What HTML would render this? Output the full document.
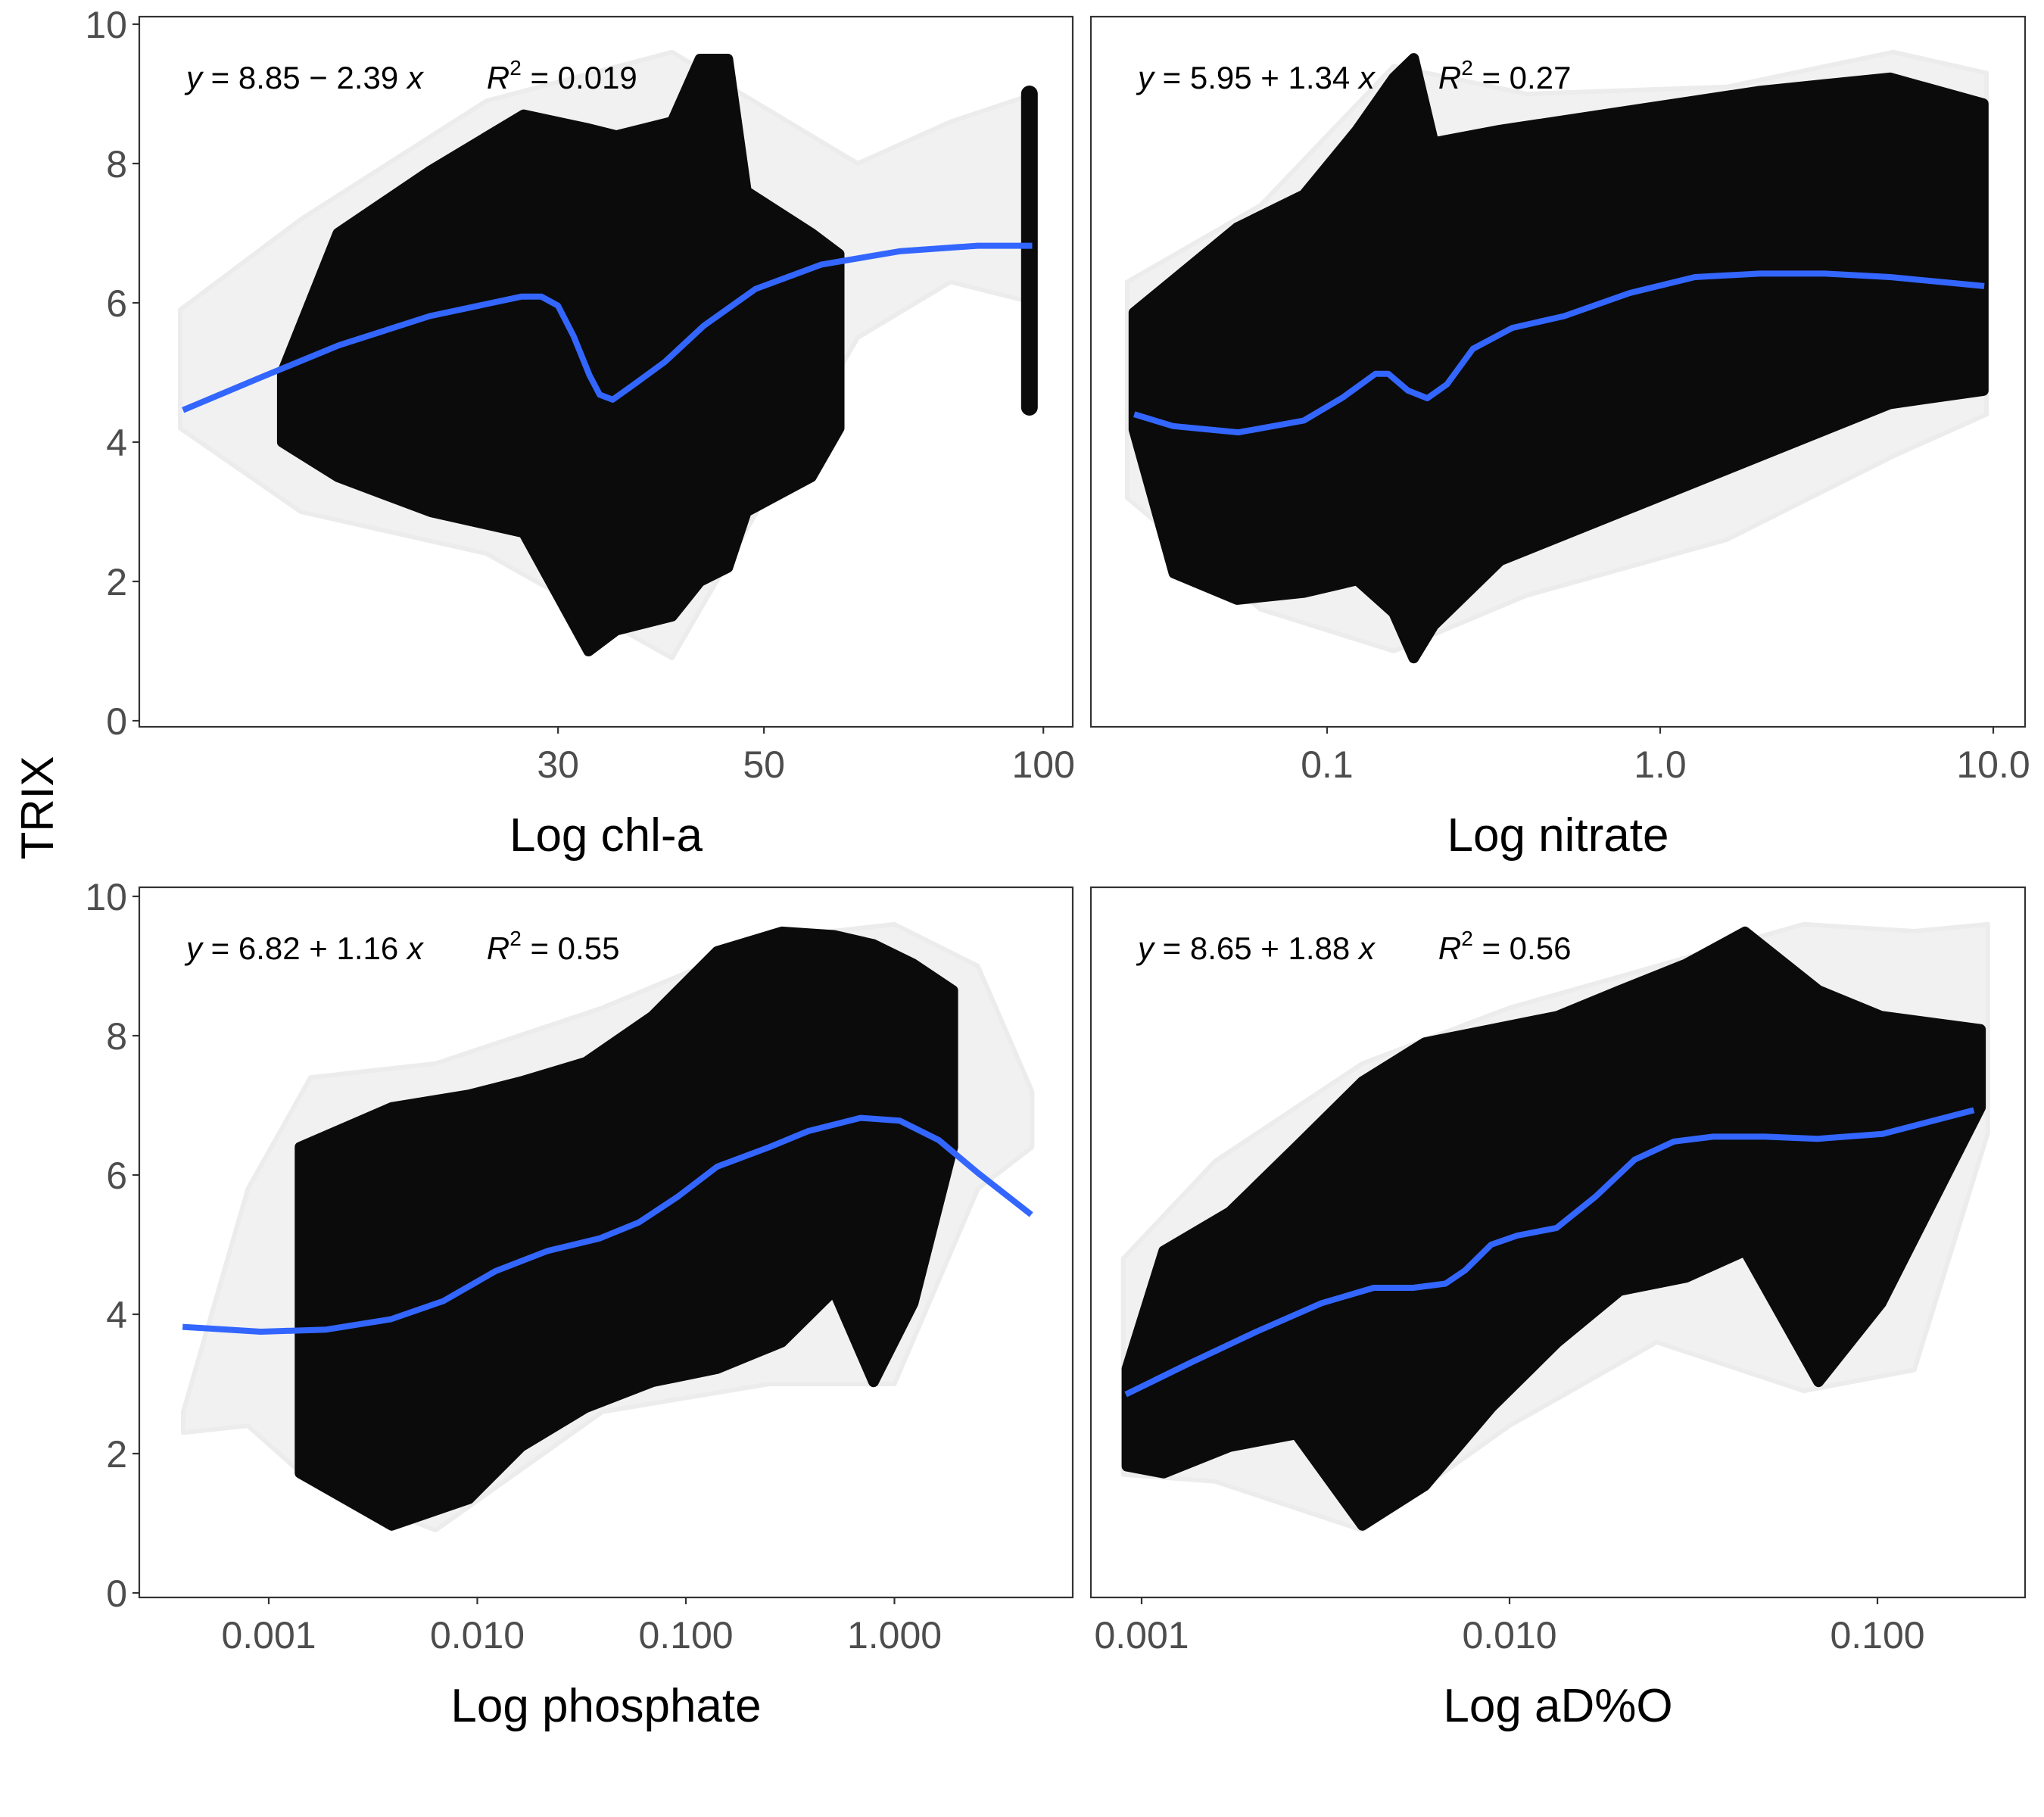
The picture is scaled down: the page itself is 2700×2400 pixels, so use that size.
<!DOCTYPE html>
<html><head><meta charset="utf-8"><style>
html,body{margin:0;padding:0;background:#fff;}
svg{display:block;font-family:"Liberation Sans",Arial,sans-serif;}
</style></head><body>
<svg id="chart" width="2700" height="2400" viewBox="0 0 2700 2400" xmlns="http://www.w3.org/2000/svg">
<rect width="2700" height="2400" fill="#fff"/>
<text x="0" y="0" transform="translate(70,1067) rotate(-90)" font-size="60" text-anchor="middle" fill="#000">TRIX</text>
</svg>
<script>
// ---- Panel 1: chl-a (x stored as log10 values) ----
const chlaCloudX  = [1.18,1.24,1.34,1.44,1.51,1.54,1.60,1.63,1.66,1.68,1.75,1.78];
const chlaCloudHi = [5.0,7.0,7.9,8.7,8.5,8.4,8.6,9.5,9.5,7.6,7.0,6.7];
const chlaCloudLo = [4.0,3.5,3.0,2.7,1.0,1.3,1.5,2.0,2.2,3.0,3.5,4.2];
const chlaHaloX  = [1.07,1.20,1.40,1.60,1.80,1.90,1.99];
const chlaHaloHi = [5.9,7.2,8.9,9.6,8.0,8.6,9.0];
const chlaHaloLo = [4.2,3.0,2.4,0.9,5.5,6.3,6.0];
const chlaSpikeX = [1.985];
const chlaSpikeLo = [4.5];
const chlaSpikeHi = [9.0];
const chlaFitX = [1.073,1.157,1.241,1.339,1.438,1.459,1.477,1.494,1.511,1.522,1.536,1.557,1.592,1.634,1.690,1.761,1.845,1.929,1.988];
const chlaFitY = [4.46,4.93,5.39,5.81,6.09,6.09,5.96,5.52,4.96,4.68,4.61,4.81,5.15,5.67,6.20,6.55,6.74,6.82,6.82];
const chlaTicks = [30,50,100];
const chlaTickLabels = ["30","50","100"];

// ---- Panel 2: nitrate ----
const nitCloudX  = [-1.58,-1.46,-1.27,-1.07,-0.91,-0.80,-0.74,-0.68,-0.48,-0.09,0.30,0.69,0.97];
const nitCloudHi = [5.86,6.33,7.08,7.55,8.48,9.23,9.51,8.30,8.48,8.76,9.04,9.23,8.86];
const nitCloudLo = [4.18,2.12,1.74,1.84,2.02,1.55,0.90,1.37,2.30,3.05,3.80,4.55,4.74];
const nitHaloX  = [-1.60,-1.20,-0.80,-0.40,0.20,0.70,0.98];
const nitHaloHi = [6.3,7.4,9.4,9.0,9.1,9.6,9.3];
const nitHaloLo = [3.2,1.6,1.0,1.8,2.6,3.8,4.4];
const nitFitX = [-1.579,-1.462,-1.266,-1.070,-0.953,-0.855,-0.816,-0.757,-0.699,-0.640,-0.562,-0.444,-0.288,-0.092,0.104,0.299,0.495,0.691,0.973];
const nitFitY = [4.40,4.23,4.14,4.31,4.64,4.98,4.98,4.74,4.63,4.83,5.34,5.64,5.81,6.14,6.37,6.42,6.42,6.37,6.24];
const nitTicks = [0.1,1.0,10.0];
const nitTickLabels = ["0.1","1.0","10.0"];

// ---- Panel 3: phosphate ----
const phoCloudX  = [-2.85,-2.41,-2.04,-1.79,-1.48,-1.16,-0.85,-0.54,-0.29,-0.10,0.09,0.28];
const phoCloudHi = [6.40,6.97,7.15,7.34,7.62,8.28,9.21,9.49,9.44,9.31,9.03,8.65];
const phoCloudLo = [1.72,0.97,1.35,2.10,2.66,3.03,3.22,3.60,4.34,3.03,4.16,6.40];
const phoHaloX  = [-3.41,-3.10,-2.80,-2.20,-1.40,-0.60,0.00,0.40,0.66];
const phoHaloHi = [2.6,5.8,7.4,7.6,8.4,9.4,9.6,9.0,7.2];
const phoHaloLo = [2.3,2.4,1.6,0.9,2.6,3.0,3.0,5.8,6.4];
const phoFitX = [-3.413,-3.038,-2.725,-2.413,-2.163,-1.913,-1.663,-1.413,-1.225,-1.038,-0.85,-0.6,-0.413,-0.163,0.025,0.213,0.4,0.656];
const phoFitY = [3.82,3.75,3.78,3.93,4.19,4.62,4.91,5.09,5.32,5.69,6.12,6.40,6.63,6.82,6.78,6.50,6.03,5.43];
const phoTicks = [0.001,0.010,0.100,1.000];
const phoTickLabels = ["0.001","0.010","0.100","1.000"];

// ---- Panel 4: aD%O ----
const adoCloudX  = [-3.04,-2.94,-2.76,-2.58,-2.40,-2.23,-2.05,-1.87,-1.70,-1.52,-1.36,-1.16,-0.99,-0.72];
const adoCloudHi = [3.22,4.91,5.47,6.40,7.34,7.90,8.09,8.28,8.65,9.03,9.49,8.65,8.28,8.09];
const adoCloudLo = [1.82,1.72,2.10,2.28,0.97,1.54,2.66,3.60,4.34,4.53,4.91,3.03,4.16,6.97];
const adoHaloX  = [-3.05,-2.80,-2.40,-2.00,-1.60,-1.20,-0.90,-0.70];
const adoHaloHi = [4.8,6.2,7.6,8.4,9.0,9.6,9.5,9.6];
const adoHaloLo = [1.7,1.6,0.9,2.4,3.6,2.9,3.2,6.6];
const adoFitX = [-3.043,-2.865,-2.688,-2.511,-2.369,-2.262,-2.174,-2.121,-2.05,-1.979,-1.872,-1.766,-1.660,-1.553,-1.447,-1.305,-1.163,-0.986,-0.738];
const adoFitY = [2.85,3.31,3.75,4.16,4.38,4.38,4.44,4.63,5.0,5.13,5.24,5.69,6.22,6.48,6.55,6.55,6.52,6.59,6.93];
const adoTicks = [0.001,0.010,0.100];
const adoTickLabels = ["0.001","0.010","0.100"];

const yTicks = [0,2,4,6,8,10];
const yTickLabels = ["0","2","4","6","8","10"];

const NS = "http://www.w3.org/2000/svg";
const svg = document.getElementById('chart');
function mk(tag, attrs, parent){
  const e = document.createElementNS(NS, tag);
  for (const k in attrs) e.setAttribute(k, attrs[k]);
  (parent||svg).appendChild(e);
  return e;
}

const panels = [
  {key:'chla', x0:184, x1:1417, y0:22, y1:960, yZero:952, yTen:32, ref:1.477, refPx:737, pxDec:1226,
   cx:chlaCloudX, hi:chlaCloudHi, lo:chlaCloudLo, hx:chlaHaloX, hhi:chlaHaloHi, hlo:chlaHaloLo,
   fx:chlaFitX, fy:chlaFitY, ticks:chlaTicks, tl:chlaTickLabels, title:'Log chl-a',
   eq:['8.85 \u2212 2.39','0.019'], sx:chlaSpikeX, slo:chlaSpikeLo, shi:chlaSpikeHi},
  {key:'nitrate', x0:1441, x1:2675, y0:22, y1:960, yZero:952, yTen:32, ref:-1, refPx:1753, pxDec:440,
   cx:nitCloudX, hi:nitCloudHi, lo:nitCloudLo, hx:nitHaloX, hhi:nitHaloHi, hlo:nitHaloLo,
   fx:nitFitX, fy:nitFitY, ticks:nitTicks, tl:nitTickLabels, title:'Log nitrate', eq:['5.95 + 1.34','0.27']},
  {key:'phosphate', x0:184, x1:1417, y0:1172, y1:2110, yZero:2104, yTen:1184, ref:-3, refPx:355, pxDec:275.5,
   cx:phoCloudX, hi:phoCloudHi, lo:phoCloudLo, hx:phoHaloX, hhi:phoHaloHi, hlo:phoHaloLo,
   fx:phoFitX, fy:phoFitY, ticks:phoTicks, tl:phoTickLabels, title:'Log phosphate', eq:['6.82 + 1.16','0.55']},
  {key:'ado', x0:1441, x1:2675, y0:1172, y1:2110, yZero:2104, yTen:1184, ref:-3, refPx:1508, pxDec:486,
   cx:adoCloudX, hi:adoCloudHi, lo:adoCloudLo, hx:adoHaloX, hhi:adoHaloHi, hlo:adoHaloLo,
   fx:adoFitX, fy:adoFitY, ticks:adoTicks, tl:adoTickLabels, title:'Log aD%O', eq:['8.65 + 1.88','0.56']}
];

panels.forEach((p, i) => {
  const X = v => p.refPx + (v - p.ref) * p.pxDec;          // v in log10 units
  const Y = v => p.yZero - v * (p.yZero - p.yTen) / 10;
  const g = mk('g', {});
  
  
  const cp = mk('clipPath', {id:'clip' + i}, g);
  mk('rect', {x:p.x0, y:p.y0, width:p.x1-p.x0, height:p.y1-p.y0}, cp);
  const inner = mk('g', {'clip-path':'url(#clip'+i+')'}, g);

  // faint halo of translucent points
  let hp = p.hx.map((v,j)=>X(v).toFixed(1)+','+Y(p.hhi[j]).toFixed(1));
  for (let j=p.hx.length-1;j>=0;j--) hp.push(X(p.hx[j]).toFixed(1)+','+Y(p.hlo[j]).toFixed(1));
  const halo = mk('polygon', {points:hp.join(' '), fill:'#f1f1f1', stroke:'#ececec', 'stroke-width':'6', 'stroke-linejoin':'round'}, inner);
  
  

  // dense point cloud
  let pts = p.cx.map((v,j)=>X(v).toFixed(1)+','+Y(p.hi[j]).toFixed(1));
  for (let j=p.cx.length-1;j>=0;j--) pts.push(X(p.cx[j]).toFixed(1)+','+Y(p.lo[j]).toFixed(1));
  const cloud = mk('polygon', {points:pts.join(' '), fill:'#0b0b0b', stroke:'#0b0b0b', 'stroke-width':'14', 'stroke-linejoin':'round'}, inner);
  
  

  if (p.sx) p.sx.forEach((v,j)=>{
    const s = mk('line', {x1:X(v), x2:X(v), y1:Y(p.slo[j]), y2:Y(p.shi[j]), stroke:'#0b0b0b', 'stroke-width':'22', 'stroke-linecap':'round'}, inner);
    
    
  });

  // smooth fit line
  const d = p.fx.map((v,j)=>(j?'L':'M')+X(v).toFixed(1)+','+Y(p.fy[j]).toFixed(1)).join(' ');
  const ln = mk('path', {d:d, fill:'none', stroke:'#3366FF', 'stroke-width':'8', 'stroke-linejoin':'round', 'stroke-linecap':'butt'}, inner);
  
  

  // frame
  const fr = mk('rect', {x:p.x0, y:p.y0, width:p.x1-p.x0, height:p.y1-p.y0, fill:'none', stroke:'#333', 'stroke-width':'2.2'}, g);
  
  

  // y axis
  if (p.x0 < 1000) {
    yTicks.forEach((t,j)=>{
      mk('line', {x1:p.x0-9, x2:p.x0, y1:Y(t), y2:Y(t), stroke:'#333', 'stroke-width':'2.2'}, g);
      const tx = mk('text', {x:p.x0-16, y:Y(t)+18, 'font-size':'50', 'text-anchor':'end', fill:'#4d4d4d'}, g);
      tx.textContent = yTickLabels[j];
      
      
    });
  }
  // x axis
  p.ticks.forEach((t,j)=>{
    const x = X(Math.log10(t));
    mk('line', {x1:x, x2:x, y1:p.y1, y2:p.y1+9, stroke:'#333', 'stroke-width':'2.2'}, g);
    const tx = mk('text', {x:x, y:p.y1+67, 'font-size':'50', 'text-anchor':'middle', fill:'#4d4d4d'}, g);
    tx.textContent = p.tl[j];
    
    
  });
  const tt = mk('text', {x:(p.x0+p.x1)/2, y:p.y1+164, 'font-size':'62', 'text-anchor':'middle', fill:'#000'}, g);
  tt.textContent = p.title;
  
  

  // equation
  const eq = mk('text', {x:p.x0+62, y:p.y0+95, 'font-size':'42', fill:'#000'}, g);
  
  
  const parts = [['y',1],[' = '+p.eq[0]+' ',0],['x',1],['\u2003\u2003',0],['R',1],['2',2],[' = '+p.eq[1],3]];
  parts.forEach(([s,st])=>{
    const ts = mk('tspan', {}, eq);
    if (st===1) ts.setAttribute('font-style','italic');
    if (st===2) { ts.setAttribute('font-size','28'); ts.setAttribute('dy','-18'); }
    if (st===3) ts.setAttribute('dy','18');
    ts.textContent = s;
  });
});
</script>
</body></html>
